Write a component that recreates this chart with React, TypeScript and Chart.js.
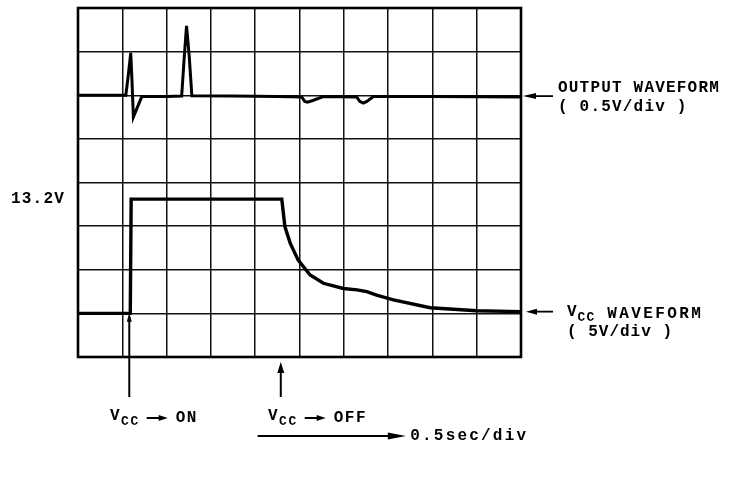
import React, { useEffect, useRef } from "react";
import { Chart, registerables } from "chart.js";

Chart.register(...registerables);

// time axis in divisions (0.5 sec/div), 10 divisions
const timeMin = 0;
const timeMax = 10;
// vertical axis in divisions, 8 divisions
const levelMin = 0;
const levelMax = 8;

// OUTPUT WAVEFORM (0.5V/div), positions in divisions
const outputTime = [0, 1.08, 1.14, 1.19, 1.22, 1.25, 1.44, 2.0, 2.34, 2.4, 2.45, 2.51, 2.57, 3.5, 4.5, 5.05, 5.12, 5.18, 5.3, 5.54, 6.29, 6.36, 6.44, 6.52, 6.67, 8.0, 10];
const outputLevel = [6.0, 6.0, 6.5, 6.97, 6.3, 5.5, 5.97, 5.97, 5.98, 6.9, 7.59, 6.9, 5.99, 5.98, 5.97, 5.96, 5.86, 5.84, 5.88, 5.97, 5.96, 5.86, 5.82, 5.86, 5.97, 5.97, 5.96];

// VCC WAVEFORM (5V/div), positions in divisions
const vccTime = [0, 1.18, 1.2, 2.5, 4.6, 4.67, 4.79, 4.97, 5.24, 5.54, 5.99, 6.3, 6.52, 6.74, 7.12, 7.95, 9.0, 10];
const vccLevel = [1.0, 1.0, 3.62, 3.62, 3.62, 2.99, 2.61, 2.22, 1.88, 1.69, 1.57, 1.54, 1.5, 1.42, 1.31, 1.13, 1.06, 1.04];

// annotation values
const vccOnTime = 1.18;
const vccOffTime = 4.6;
const vccHighLevel = 3.62;
const outputBaseLevel = 5.98;
const vccRestLevel = 1.04;

const labelHigh = "13.2V";
const labelOutput = ["OUTPUT WAVEFORM", "( 0.5V/div )"];
const labelVcc = [" WAVEFORM", "( 5V/div )"];
const labelOn = "ON";
const labelOff = "OFF";
const labelTime = "0.5sec/div";

const FONT = "'Liberation Mono', 'DejaVu Sans Mono', monospace";

function arrowHead(ctx: CanvasRenderingContext2D, tx: number, ty: number, dir: "left" | "right" | "up", len: number, half: number) {
  ctx.beginPath();
  if (dir === "left") {
    ctx.moveTo(tx, ty);
    ctx.lineTo(tx + len, ty - half);
    ctx.lineTo(tx + len, ty + half);
  } else if (dir === "right") {
    ctx.moveTo(tx, ty);
    ctx.lineTo(tx - len, ty - half);
    ctx.lineTo(tx - len, ty + half);
  } else {
    ctx.moveTo(tx, ty);
    ctx.lineTo(tx - half, ty + len);
    ctx.lineTo(tx + half, ty + len);
  }
  ctx.closePath();
  ctx.fill();
}

// draws "V" with subscript "CC", returns x after it
function drawVccMark(ctx: CanvasRenderingContext2D, x: number, y: number, size: number) {
  ctx.textBaseline = "middle";
  ctx.textAlign = "left";
  ctx.font = `bold ${size}px ${FONT}`;
  ctx.fillText("V", x, y - 2);
  let w = ctx.measureText("V").width;
  ctx.font = `bold ${Math.round(size * 0.8)}px ${FONT}`;
  ctx.fillText("CC", x + w, y + 4);
  w += ctx.measureText("CC").width;
  return x + w;
}

const overlay = {
  id: "scopeOverlay",
  afterDraw(chart: any) {
    const { ctx, chartArea: ca, scales } = chart;
    const xs = scales.x;
    const ys = scales.y;
    ctx.save();
    ctx.strokeStyle = "#000";
    ctx.fillStyle = "#000";
    // frame
    ctx.lineWidth = 2.6;
    ctx.strokeRect(ca.left, ca.top, ca.right - ca.left, ca.bottom - ca.top);

    // output arrow
    const yOut = ys.getPixelForValue(outputBaseLevel);
    ctx.lineWidth = 1.8;
    ctx.beginPath();
    ctx.moveTo(ca.right + 10, yOut);
    ctx.lineTo(ca.right + 32, yOut);
    ctx.stroke();
    arrowHead(ctx, ca.right + 2, yOut, "left", 13, 3);

    // vcc arrow
    const yV = ys.getPixelForValue(vccRestLevel);
    ctx.beginPath();
    ctx.moveTo(ca.right + 10, yV);
    ctx.lineTo(ca.right + 32, yV);
    ctx.stroke();
    arrowHead(ctx, ca.right + 5, yV, "left", 11, 3);

    // ON arrow
    const xOn = xs.getPixelForValue(vccOnTime) - 1;
    ctx.lineWidth = 2;
    ctx.beginPath();
    ctx.moveTo(xOn, ca.bottom + 40);
    ctx.lineTo(xOn, ys.getPixelForValue(vccRestLevel) + 8);
    ctx.stroke();
    arrowHead(ctx, xOn, ys.getPixelForValue(vccRestLevel) + 1, "up", 9, 2.5);

    // OFF arrow
    const xOff = xs.getPixelForValue(vccOffTime) - 1;
    ctx.beginPath();
    ctx.moveTo(xOff, ca.bottom + 40);
    ctx.lineTo(xOff, ca.bottom + 14);
    ctx.stroke();
    arrowHead(ctx, xOff, ca.bottom + 5, "up", 11, 3.5);

    // time arrow
    const yT = ca.bottom + 79;
    ctx.lineWidth = 2;
    ctx.beginPath();
    ctx.moveTo(xs.getPixelForValue(4.1) - 2, yT);
    ctx.lineTo(xs.getPixelForValue(7.2), yT);
    ctx.stroke();
    arrowHead(ctx, xs.getPixelForValue(7.4), yT, "right", 18, 3.5);

    // texts
    ctx.textBaseline = "middle";
    ctx.textAlign = "left";
    (ctx as any).letterSpacing = "1.2px";
    ctx.font = `bold 16px ${FONT}`;
    ctx.fillText(labelOutput[0], ca.right + 37, yOut - 8);
    ctx.fillText(labelOutput[1], ca.right + 37, yOut + 11);
    ctx.fillText(labelHigh, 11, ys.getPixelForValue(vccHighLevel));
    (ctx as any).letterSpacing = "1px";
    let nx = drawVccMark(ctx, ca.right + 46, yV + 2, 16);
    (ctx as any).letterSpacing = "2.4px";
    ctx.font = `bold 16px ${FONT}`;
    ctx.fillText(labelVcc[0], nx, yV + 2);
    (ctx as any).letterSpacing = "1px";
    ctx.fillText(labelVcc[1], ca.right + 46, yV + 20);

    // ON / OFF labels with drawn arrows
    const drawSwitch = (x0: number, word: string) => {
      (ctx as any).letterSpacing = "1.5px";
      const yy = ca.bottom + 61;
      let px = drawVccMark(ctx, x0, yy, 16);
      px += 7;
      ctx.lineWidth = 2;
      ctx.beginPath();
      ctx.moveTo(px, yy);
      ctx.lineTo(px + 13, yy);
      ctx.stroke();
      arrowHead(ctx, px + 21, yy, "right", 9, 3);
      ctx.font = `bold 16px ${FONT}`;
      ctx.fillText(word, px + 29, yy);
    };
    drawSwitch(110, labelOn);
    drawSwitch(268, labelOff);

    (ctx as any).letterSpacing = "2.2px";
    ctx.font = `bold 16px ${FONT}`;
    ctx.fillText(labelTime, xs.getPixelForValue(7.5), yT);
    ctx.restore();
  },
};

export default function App() {
  const ref = useRef<HTMLCanvasElement | null>(null);
  useEffect(() => {
    if (!ref.current) return;
    const outputPoints = outputTime.map((t, i) => ({ x: t, y: outputLevel[i] }));
    const vccPoints = vccTime.map((t, i) => ({ x: t, y: vccLevel[i] }));
    const axisCommon = {
      type: "linear" as const,
      ticks: { display: false, stepSize: 1 },
      grid: { color: "#111", lineWidth: 1.5, drawTicks: false },
      border: { display: false },
    };
    const chart = new Chart(ref.current, {
      type: "line",
      data: {
        datasets: [
          { label: "OUTPUT WAVEFORM", data: outputPoints, borderColor: "#000", borderWidth: 3, pointRadius: 0, tension: 0, fill: false },
          { label: "VCC WAVEFORM", data: vccPoints, borderColor: "#000", borderWidth: 3.4, pointRadius: 0, tension: 0, fill: false },
        ],
      },
      options: {
        animation: false,
        responsive: false,
        devicePixelRatio: 1,
        layout: { padding: { left: 78, right: 219, top: 8, bottom: 124 } },
        plugins: { legend: { display: false }, tooltip: { enabled: false } },
        scales: {
          x: { ...axisCommon, min: timeMin, max: timeMax, afterFit: (s: any) => { s.height = 0; } },
          y: { ...axisCommon, min: levelMin, max: levelMax, afterFit: (s: any) => { s.width = 0; } },
        },
      },
      plugins: [overlay],
    });
    return () => chart.destroy();
  }, []);
  return (
    <div style={{ position: "absolute", left: 0, top: 0, width: 740, height: 481, background: "#fff" }}>
      <canvas ref={ref} width={740} height={481} />
    </div>
  );
}
